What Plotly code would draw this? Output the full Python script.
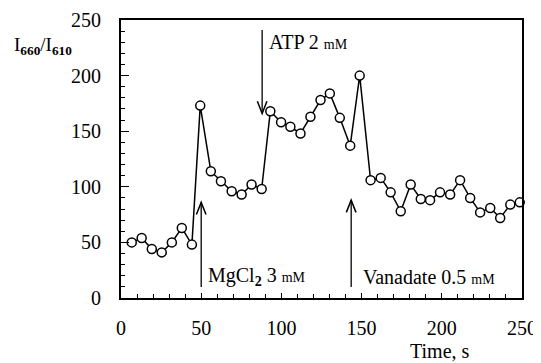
import plotly.graph_objects as go

# ---- data ----
time_s = [6.7, 12.9, 19.2, 25.4, 31.7, 37.9, 44.2, 49.4, 56.0, 62.3, 69.0, 75.2, 81.4, 87.7,
          93.1, 99.8, 105.6, 111.9, 118.1, 124.4, 130.2, 136.4, 142.9, 148.8, 155.6, 161.9,
          168.1, 174.4, 180.6, 186.9, 192.7, 198.9, 205.2, 211.4, 217.7, 223.9, 230.2, 236.4,
          242.7, 248.6]
ratio = [50, 54, 44, 41, 50, 63, 48, 173, 114, 105, 96, 93, 102, 98,
         168, 158, 154, 148, 163, 178, 184, 162, 137, 200, 106, 108,
         95, 78, 102, 89, 88, 95, 93, 106, 90, 77, 81, 72,
         84, 86]

tick_vals = [0, 50, 100, 150, 200, 250]
tick_text = ["0", "50", "100", "150", "200", "250"]

# arrows: x position, tail y, tip y
arrow_x = [50, 88, 143.5]
arrow_tail = [10, 241, 10]
arrow_tip = [86, 166, 88]

# labels
label_text = ["MgCl<b><sub>2</sub></b> 3 <span style='font-size:14px'>mM</span>",
              "ATP 2 <span style='font-size:14px'>mM</span>",
              "Vanadate 0.5 <span style='font-size:14px'>mM</span>"]
label_x = [53, 91.3, 149.4]
label_y = [19, 230, 19]

FONT = "Liberation Serif"

fig = go.Figure()
fig.add_trace(go.Scatter(
    x=time_s, y=ratio, mode="lines+markers",
    line=dict(color="black", width=1.5),
    marker=dict(symbol="circle", size=9, color="white",
                line=dict(color="black", width=1.5)),
    showlegend=False, cliponaxis=False,
))

shapes = []
for ax_, tail, tip in zip(arrow_x, arrow_tail, arrow_tip):
    shapes.append(dict(type="line", xref="x", yref="y", x0=ax_, x1=ax_, y0=tail, y1=tip,
                       line=dict(color="black", width=1.3)))
    d = 1 if tail < tip else -1  # pointing up (+1) or down (-1)
    hx, hy = 3.0, 11.0
    path = f"M {ax_-hx},{tip - d*hy} L {ax_},{tip} L {ax_+hx},{tip - d*hy}"
    shapes.append(dict(type="path", xref="x", yref="y", path=path,
                       line=dict(color="black", width=1.5)))

annotations = []
for t, x_, y_ in zip(label_text, label_x, label_y):
    annotations.append(dict(text=t, x=x_, y=y_, xref="x", yref="y",
                            xanchor="left", yanchor="middle", showarrow=False,
                            font=dict(family=FONT, size=20, color="black")))

annotations.append(dict(text="I<b><sub>660</sub></b>/I<b><sub>610</sub></b>",
                        x=-0.272, y=0.905, xref="paper", yref="paper",
                        xanchor="left", yanchor="middle", showarrow=False,
                        font=dict(family=FONT, size=19, color="black")))
annotations.append(dict(text="Time, s", x=0.796, y=-0.192, xref="paper", yref="paper",
                        xanchor="center", yanchor="middle", showarrow=False,
                        font=dict(family=FONT, size=20, color="black")))

axis_common = dict(
    showgrid=False, zeroline=False, showline=True, linecolor="black", linewidth=2,
    mirror=True, ticks="inside", tickcolor="black", tickwidth=1.3,
    tickfont=dict(family=FONT, size=20, color="black"),
    tickvals=tick_vals, ticktext=tick_text, automargin=False,
)

# the page body has an 8px default margin, so the figure is sized to fit the window
fig.update_layout(
    width=533, height=355,
    margin=dict(l=113, r=19, t=12, b=65),
    font=dict(family=FONT, size=20, color="black"),
    paper_bgcolor="white", plot_bgcolor="white",
    xaxis=dict(range=[0, 250], ticklen=5, ticklabelstandoff=11,
               minor=dict(ticks="inside", ticklen=4, dtick=10, tickcolor="black", tickwidth=1.3),
               **axis_common),
    yaxis=dict(range=[0, 250], ticklen=8, ticklabelstandoff=14,
               minor=dict(ticks="inside", ticklen=4, dtick=10, tickcolor="black", tickwidth=1.3),
               **axis_common),
    shapes=shapes, annotations=annotations,
)

fig.write_html("out.html")
